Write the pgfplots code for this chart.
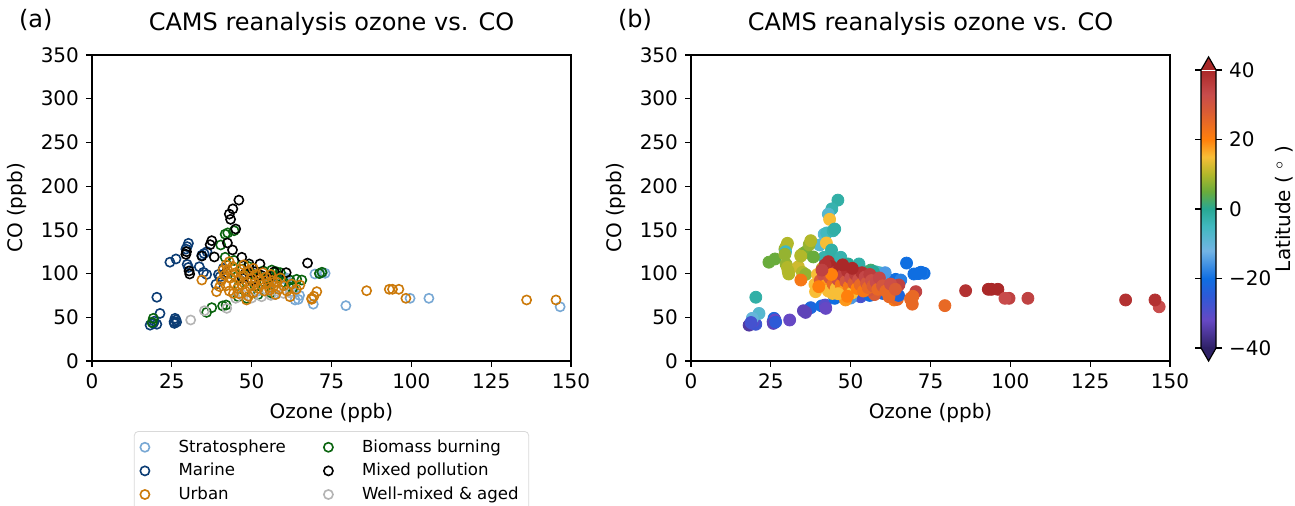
\documentclass[border=0pt]{standalone}
\usepackage{fontspec}
\setmainfont{DejaVu Sans}
\usepackage{pgfplots}
\usepackage{pgfplotstable}
\pgfplotsset{compat=1.18}

\definecolor{cstrat}{HTML}{78A8D4}
\definecolor{cmarine}{HTML}{0B3C74}
\definecolor{curban}{HTML}{CC7A0A}
\definecolor{cbiomass}{HTML}{0A640F}
\definecolor{cmixed}{HTML}{000000}
\definecolor{cwell}{HTML}{B4B4B4}
\definecolor{ctop}{HTML}{A82828}
\definecolor{cbot}{HTML}{2E2166}

% latitude colormap, positions = lat+40
\pgfplotsset{
  colormap={latmap}{
    rgb255(0pt)=(46,33,102);
    rgb255(8pt)=(102,72,196);
    rgb255(15pt)=(45,90,215);
    rgb255(20pt)=(15,110,225);
    rgb255(28pt)=(115,180,228);
    rgb255(35pt)=(65,185,192);
    rgb255(40pt)=(40,168,148);
    rgb255(45pt)=(105,172,60);
    rgb255(50pt)=(178,184,42);
    rgb255(55pt)=(248,190,55);
    rgb255(60pt)=(255,128,12);
    rgb255(68pt)=(218,92,52);
    rgb255(73pt)=(200,76,76);
    rgb255(80pt)=(170,40,40)
  },
}

% ozone (ppb), CO (ppb), latitude
\pgfplotstableread{
x y lat
59.9 94.6 -20
61.0 92.6 -22
62.5 79.3 -22
63.6 69.8 22
64.6 70.5 25
69.3 65.0 25
69.8 99.5 -20
71.4 100.3 -20
73.0 100.3 -20
72.2 101.0 -19
79.5 63.3 25
99.6 71.7 35
105.5 71.7 35
146.6 62.0 33
55.5 88.0 -12
52.0 80.0 -18
57.0 76.0 -20
60.5 95.5 -14
65.0 75.0 -22
}\strat

\pgfplotstableread{
x y lat
18.2 41.0 -35
19.2 43.0 -30
20.3 42.0 -27
19.5 45.5 -30
21.3 54.4 -8
20.3 72.9 -2
25.7 45.0 -30
26.0 48.8 -22
26.3 47.0 -32
25.8 43.0 -33
26.5 44.5 -25
24.4 113.0 5
26.3 116.7 5
29.4 128.0 8
29.8 130.8 10
30.2 134.6 10
29.8 110.5 8
30.2 107.0 10
33.6 107.8 12
35.1 123.0 8
34.4 121.0 10
34.9 101.4 10
35.9 99.0 8
38.8 87.7 15
40.1 96.4 18
41.1 106.0 12
39.6 99.0 15
36.0 125.0 6
56.5 97.0 -18
58.0 95.0 -20
}\marine

\pgfplotstableread{
x y lat
41.7 145.0 -8
42.5 146.5 -5
44.5 149.0 -3
40.3 132.7 -8
41.7 118.6 -3
44.5 115.0 -2
53.6 103.0 0
56.3 104.0 2
57.8 102.0 -2
62.0 92.6 -20
64.1 93.4 -20
65.7 92.6 -18
61.7 85.0 -20
63.0 84.0 -22
71.2 100.0 -20
72.0 101.5 -20
48.4 71.7 -30
45.8 73.5 18
37.5 61.0 -22
40.9 63.0 -20
42.0 64.0 -30
35.9 55.6 -33
19.2 48.8 -10
18.8 44.0 -28
50.0 100.0 0
52.0 98.0 -2
55.0 95.0 -5
58.5 97.0 -8
47.0 105.0 2
49.0 108.0 5
45.0 96.0 10
60.0 90.0 -15
54.0 90.0 -10
51.0 86.0 -15
46.0 86.0 12
52.0 76.0 -20
56.0 78.0 -22
59.0 101.0 -5
}\biomass

\pgfplotstableread{
x y lat
46.0 184.0 -2
44.1 174.0 -3
43.0 168.0 -8
43.4 162.0 15
45.0 151.0 -2
37.0 133.0 8
37.5 137.6 10
42.4 135.0 15
44.0 127.0 -2
38.3 119.0 5
34.4 120.0 10
46.9 118.6 -3
49.2 111.0 0
52.6 111.0 -2
67.5 112.0 -20
60.8 101.0 -15
57.1 102.0 0
30.6 99.5 10
30.4 103.0 10
29.6 125.0 -5
29.4 122.0 8
47.0 95.0 38
50.0 92.0 36
53.0 98.0 40
48.0 100.0 40
55.0 93.0 35
51.0 102.0 38
42.0 101.0 30
}\mixed

\pgfplotstableread{
x y lat
30.9 46.9 -32
35.2 57.5 -33
42.2 60.2 -32
53.1 73.5 -28
56.0 75.0 -20
60.0 77.3 -22
50.0 72.0 -15
47.0 76.0 -20
58.0 80.0 -22
45.0 71.7 -20
62.0 78.0 -25
}\wellmixed

\pgfplotstableread{
x y lat
34.4 92.6 22
39.0 79.3 15
43.0 113.6 38
44.3 77.3 15
48.4 69.8 18
62.0 73.5 25
65.1 86.9 35
68.8 71.7 25
70.4 79.3 35
69.5 74.0 25
57.5 76.0 28
55.7 81.0 30
86.0 80.4 38
93.1 82.0 40
94.1 82.0 40
96.1 82.0 40
98.3 71.7 33
136.1 69.8 38
145.3 69.8 38
68.8 70.5 25
40.5 92.0 28
41.5 98.0 32
42.0 86.0 18
42.5 104.0 38
43.0 80.0 15
43.5 95.0 30
44.0 108.0 40
44.5 88.0 25
45.0 101.0 35
45.5 83.0 15
46.0 93.0 32
46.5 105.0 40
47.0 87.0 22
47.5 98.0 35
48.0 80.0 18
48.5 91.0 30
49.0 103.0 38
49.5 85.0 22
50.0 95.0 33
50.5 78.0 15
51.0 89.0 28
51.5 99.0 36
52.0 83.0 20
52.5 93.0 32
53.0 87.0 25
53.5 101.0 38
54.0 80.0 22
54.5 96.0 34
55.0 89.0 30
55.5 84.0 25
56.0 99.0 36
56.5 92.0 32
57.0 86.0 28
58.0 90.0 33
58.5 82.0 25
59.0 95.0 34
60.0 86.0 30
61.0 80.0 25
62.5 88.0 32
64.0 82.0 28
42.0 110.0 38
47.5 110.0 40
50.5 106.0 40
44.0 99.0 20
46.0 77.0 15
49.0 74.0 20
40.0 85.0 20
41.0 104.0 35
}\urban

\pgfplotsset{
  panel/.style={
    scale only axis, width=239.5pt, height=153pt,
    xmin=0, xmax=150, ymin=0, ymax=350,
    xtick={0,25,...,150}, ytick={0,50,...,350},
    tick align=outside, tick pos=left, major tick length=3pt,
    axis line style={line width=0.6pt}, tick style={line width=0.6pt, black},
    /pgf/number format/assume math mode=true,
    ticklabel style={font=\fontsize{10}{12}\selectfont},
    label style={font=\fontsize{10}{12}\selectfont},
    title style={font=\fontsize{12}{14}\selectfont},
    xlabel={Ozone (ppb)}, ylabel={CO (ppb)},
    title={CAMS reanalysis ozone vs. CO},
  },
  ring/.style={only marks, mark=o, mark size=2.3pt, line width=0.8pt, #1},
  dot/.style={scatter, only marks, mark=*, mark size=3pt,
    scatter/use mapped color={draw=mapped color, fill=mapped color},
    point meta=\thisrow{lat}},
}

\begin{document}
\begin{tikzpicture}
\path[use as bounding box] (-46pt,-72.5pt) rectangle (601.5pt,180.5pt);

\begin{axis}[panel, name=a, at={(0,0)}, anchor=south west,
  legend style={at={(0.5,-0.229)}, anchor=north, legend columns=2,
    draw=black!15, rounded corners=2pt, font=\fontsize{8.3}{12}\selectfont,
    /tikz/every odd column/.append style={column sep=12.5pt},
    /tikz/every even column/.append style={column sep=17pt}},
  legend cell align=left,
]
\addlegendimage{ring=cstrat}\addlegendentry{Stratosphere}
\addlegendimage{ring=cbiomass}\addlegendentry{Biomass burning}
\addlegendimage{ring=cmarine}\addlegendentry{Marine}
\addlegendimage{ring=cmixed}\addlegendentry{Mixed pollution}
\addlegendimage{ring=curban}\addlegendentry{Urban}
\addlegendimage{ring=cwell}\addlegendentry{Well-mixed \& aged}
\addplot[ring=cstrat, forget plot] table[x=x, y=y] {\strat};
\addplot[ring=cmarine, forget plot] table[x=x, y=y] {\marine};
\addplot[ring=cbiomass, forget plot] table[x=x, y=y] {\biomass};
\addplot[ring=cwell, forget plot] table[x=x, y=y] {\wellmixed};
\addplot[ring=cmixed, forget plot] table[x=x, y=y] {\mixed};
\addplot[ring=curban, forget plot] table[x=x, y=y] {\urban};
\end{axis}

\begin{axis}[panel, name=b, at={(299.5pt,0)}, anchor=south west,
  colormap name=latmap, point meta min=-40, point meta max=40,
  colorbar,
  colorbar style={
    scale only axis,
    at={(parent axis.north east)}, anchor=north west,
    xshift=7pt, yshift=-7.5pt, width=7.5pt, height=139pt,
    ytick={-40,-20,0,20,40}, yticklabels={−40,−20,0,20,40},
    yticklabel style={font=\fontsize{10}{12}\selectfont},
    tick align=outside, major tick length=3pt,
    tick style={line width=0.6pt, black},
    axis line style={draw=none},
    ylabel={Latitude ( $^\circ$ )},
    every axis y label/.style={at={(axis description cs:1,0.5)}, anchor=center,
      rotate=90, yshift=-34pt, font=\fontsize{10}{12}\selectfont},
    after end axis/.code={
      \fill[ctop] (rel axis cs:0,1) -- (rel axis cs:0.5,1.047) -- (rel axis cs:1,1) -- cycle;
      \fill[cbot] (rel axis cs:0,0) -- (rel axis cs:0.5,-0.047) -- (rel axis cs:1,0) -- cycle;
      \draw[line width=0.6pt] (rel axis cs:0,0) -- (rel axis cs:0,1) -- (rel axis cs:0.5,1.047)
        -- (rel axis cs:1,1) -- (rel axis cs:1,0) -- (rel axis cs:0.5,-0.047) -- cycle;
    },
  },
]
\addplot[dot] table[x=x, y=y] {\strat};
\addplot[dot] table[x=x, y=y] {\marine};
\addplot[dot] table[x=x, y=y] {\biomass};
\addplot[dot] table[x=x, y=y] {\wellmixed};
\addplot[dot] table[x=x, y=y] {\mixed};
\addplot[dot] table[x=x, y=y] {\urban};
\end{axis}

\node[anchor=west, xshift=-40pt, yshift=17.5pt, font=\fontsize{12}{14}\selectfont] at (a.north west) {(a)};
\node[anchor=west, xshift=-40pt, yshift=17.5pt, font=\fontsize{12}{14}\selectfont] at (b.north west) {(b)};
\end{tikzpicture}
\end{document}
